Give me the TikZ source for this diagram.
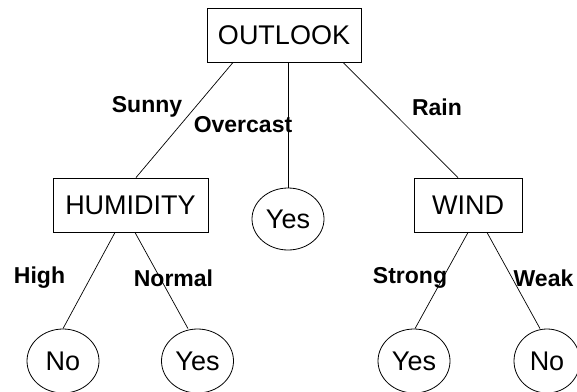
\documentclass[tikz,border=0pt]{standalone}
\usepackage{fontspec}
\setmainfont{Liberation Sans}
\usetikzlibrary{shapes.geometric}
\begin{document}
\begin{tikzpicture}[x=1pt,y=-1pt,
  attr/.style={draw, line width=0.9pt, inner sep=0pt, minimum height=54pt, font=\fontsize{27}{29}\selectfont},
  leaf/.style={draw, ellipse, line width=0.8pt, inner sep=0pt, minimum width=72pt, minimum height=62pt, font=\fontsize{27}{29}\selectfont},
  edge/.style={line width=0.7pt},
  lbl/.style={inner sep=0pt, font=\fontsize{23}{25}\selectfont\bfseries}]
\useasboundingbox (0,0) rectangle (577,391);
\node[attr, minimum width=154pt] (outlook) at (284,35) {OUTLOOK};
\node[attr, minimum width=155pt] (hum) at (130.5,205) {HUMIDITY};
\node[attr, minimum width=108pt] (wind) at (468,205) {WIND};
\node[leaf] (yesm) at (288,219) {Yes};
\node[leaf, minimum height=64pt] (no1) at (63,361) {No};
\node[leaf, minimum height=64pt] (yes1) at (197.5,361) {Yes};
\node[leaf, minimum height=64pt] (yes2) at (414,361) {Yes};
\node[leaf, minimum width=66pt, minimum height=64pt] (no2) at (547,361) {No};
\draw[edge] ([xshift=-51pt]outlook.south) -- ([xshift=5.5pt]hum.north);
\draw[edge] ([xshift=4pt]outlook.south) -- (yesm.north);
\draw[edge] ([xshift=59pt]outlook.south) -- ([xshift=-10pt]wind.north);
\draw[edge] ([xshift=-15.5pt]hum.south) -- (no1.north);
\draw[edge] ([xshift=4.5pt]hum.south) -- ([xshift=-9.5pt]yes1.north);
\draw[edge] (wind.south) -- ([xshift=1pt]yes2.north);
\draw[edge] ([xshift=19pt]wind.south) -- ([xshift=-7pt]no2.north);
\node[lbl] (lsunny) at (147,107) {Sunny};
\node[lbl] (lover) at (243,125) {Overcast};
\node[lbl] (lrain) at (437,107) {Rain};
\node[lbl] (lhigh) at (39.5,278) {High};
\node[lbl] (lnormal) at (173.5,278) {Normal};
\node[lbl] (lstrong) at (410,278) {Strong};
\node[lbl] (lweak) at (543.5,278) {Weak};
\end{tikzpicture}
\end{document}
